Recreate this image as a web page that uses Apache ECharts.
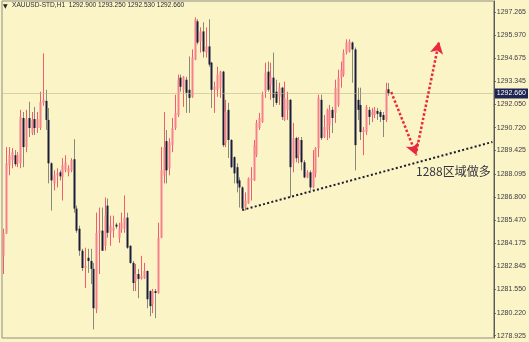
<!DOCTYPE html>
<html>
<head>
<meta charset="utf-8">
<script src="https://cdn.jsdelivr.net/npm/echarts@6/dist/echarts.min.js"></script>
<style>html,body{margin:0;padding:0;background:#fbf4c6;}#c{width:529px;height:342px;}</style>
</head>
<body>
<div id="c"></div>
<script>
// ---- data ----
const titleText = 'XAUUSD-STD,H1  1292.900 1293.250 1292.530 1292.660';
const yTicks = [1297.265, 1295.970, 1294.675, 1293.345, 1292.050, 1290.720, 1289.425, 1288.095,
  1286.800, 1285.470, 1284.175, 1282.845, 1281.550, 1280.220, 1278.925];
const lastPrice = 1292.660;
const slotCount = 175;
const opens = [1283.45,1284.71,1288.59,1288.88,1289.16,1288.70,1288.70,1291.27,1289.62,1291.27,
  1290.42,1291.21,1290.70,1290.70,1292.13,1292.24,1291.16,1288.70,1287.56,1288.02,
  1288.19,1287.90,1288.30,1288.19,1288.30,1288.93,1286.13,1284.99,1283.74,1282.76,
  1283.34,1283.16,1282.71,1280.42,1284.76,1284.88,1284.02,1286.30,1284.76,1284.88,
  1285.22,1284.48,1284.99,1284.99,1285.62,1284.02,1283.05,1282.02,1282.42,1282.14,
  1282.19,1282.59,1281.45,1280.71,1281.45,1281.34,1284.48,1288.00,1289.96,1288.42,
  1289.73,1290.70,1291.44,1293.56,1292.87,1293.44,1292.87,1292.47,1294.58,1296.75,
  1295.61,1296.18,1294.98,1295.33,1294.41,1292.87,1292.87,1292.99,1293.90,1289.85,
  1291.73,1290.02,1289.05,1288.48,1287.73,1287.33,1286.19,1286.42,1287.73,1287.73,
  1289.16,1290.70,1291.04,1292.76,1293.90,1293.16,1293.56,1292.76,1292.47,1292.99,
  1291.16,1291.73,1292.30,1288.70,1290.13,1289.16,1290.02,1288.76,1287.90,1288.19,
  1287.33,1288.13,1289.56,1292.30,1290.19,1290.59,1290.87,1291.73,1291.56,1292.01,
  1293.56,1293.73,1294.98,1295.04,1295.55,1295.16,1292.30,1292.01,1290.47,1290.47,
  1291.73,1291.44,1291.44,1291.67,1291.61,1291.44,1291.16,1292.90];
const closes = [1284.76,1288.70,1289.16,1289.33,1288.65,1289.16,1291.33,1289.62,1291.21,1290.70,
  1291.16,1290.70,1291.21,1292.19,1292.30,1291.16,1288.70,1287.73,1288.02,1288.13,
  1287.96,1288.59,1288.76,1288.42,1288.88,1286.13,1284.88,1283.74,1282.76,1282.88,
  1283.16,1282.71,1280.48,1284.76,1284.88,1283.74,1285.73,1284.76,1285.16,1285.05,
  1285.11,1284.99,1285.33,1285.62,1283.91,1283.05,1281.91,1282.42,1282.14,1282.31,
  1282.59,1280.99,1280.60,1281.45,1281.34,1284.48,1288.30,1289.62,1288.30,1289.90,
  1290.70,1291.56,1293.44,1293.04,1293.61,1292.70,1292.41,1294.70,1296.87,1295.55,
  1296.18,1295.04,1295.33,1294.30,1292.87,1293.04,1293.73,1293.90,1289.73,1291.61,
  1290.02,1288.48,1288.13,1287.56,1287.33,1286.13,1286.59,1287.85,1287.85,1289.73,
  1290.99,1291.27,1292.59,1293.84,1292.87,1293.61,1292.41,1292.13,1292.99,1291.33,
  1292.41,1292.30,1288.48,1290.13,1288.99,1290.02,1288.76,1287.90,1288.19,1287.33,
  1288.30,1289.56,1292.41,1290.13,1290.76,1291.73,1291.73,1291.27,1292.99,1293.56,
  1294.01,1294.98,1295.55,1295.61,1295.16,1289.73,1291.73,1290.47,1290.59,1291.90,
  1291.33,1291.61,1291.73,1291.50,1291.33,1291.16,1292.87,1292.66];
const lows = [1282.42,1284.71,1288.02,1288.42,1288.53,1288.48,1288.42,1288.48,1289.33,1290.19,
  1290.30,1290.30,1290.42,1290.59,1291.96,1290.59,1287.56,1286.02,1287.16,1287.33,
  1287.73,1286.59,1288.19,1287.96,1288.19,1285.90,1284.76,1283.45,1282.59,1281.62,
  1282.48,1281.85,1279.28,1280.20,1282.42,1283.74,1283.74,1284.48,1284.02,1284.48,
  1284.99,1284.19,1284.76,1284.76,1283.85,1283.00,1281.45,1281.45,1281.05,1282.10,
  1282.14,1280.48,1280.02,1280.20,1279.91,1281.30,1284.45,1287.56,1287.56,1288.02,
  1289.33,1290.59,1291.33,1292.76,1291.90,1291.56,1291.56,1292.41,1294.55,1295.44,
  1294.98,1294.70,1294.70,1294.18,1291.84,1291.56,1292.47,1292.41,1289.62,1289.62,
  1289.00,1288.42,1287.56,1287.05,1286.19,1286.02,1286.02,1286.40,1286.59,1287.70,
  1289.05,1290.59,1290.99,1292.41,1292.76,1292.30,1291.90,1292.01,1292.01,1291.16,
  1291.10,1291.16,1286.76,1288.19,1288.76,1288.70,1288.30,1287.85,1287.85,1287.16,
  1287.28,1287.90,1289.05,1290.02,1290.13,1290.02,1290.13,1290.42,1290.99,1291.90,
  1292.99,1293.61,1294.87,1294.98,1293.27,1288.30,1291.16,1290.02,1289.16,1290.30,
  1290.87,1291.04,1291.27,1291.16,1291.04,1290.19,1291.04,1292.53];
const highs = [1284.99,1289.62,1289.62,1289.56,1289.45,1289.33,1291.73,1291.61,1291.73,1292.19,
  1291.61,1291.90,1291.61,1292.76,1294.93,1292.87,1291.84,1288.76,1288.30,1288.42,
  1288.30,1288.99,1289.16,1288.59,1288.99,1290.07,1286.30,1285.16,1283.85,1283.91,
  1283.85,1283.85,1283.05,1285.90,1286.19,1286.19,1286.76,1286.70,1285.73,1285.73,
  1285.33,1285.33,1285.90,1286.88,1285.90,1284.05,1283.16,1282.99,1282.71,1283.45,
  1283.05,1282.62,1281.50,1281.57,1281.57,1285.33,1289.62,1291.61,1290.59,1290.13,
  1291.27,1292.59,1293.73,1293.73,1293.65,1293.61,1294.76,1295.16,1296.98,1296.87,
  1296.41,1296.70,1296.41,1296.87,1294.45,1293.33,1294.18,1293.95,1293.95,1292.30,
  1292.13,1290.07,1289.10,1288.70,1287.90,1287.40,1287.05,1287.90,1288.48,1290.02,
  1291.16,1291.56,1292.76,1294.41,1294.47,1294.41,1294.98,1293.44,1293.27,1293.04,
  1293.33,1292.76,1292.35,1290.99,1290.20,1290.19,1290.19,1288.88,1288.30,1288.30,
  1289.45,1289.62,1292.59,1292.59,1291.44,1291.80,1292.01,1291.90,1293.44,1294.01,
  1294.47,1295.16,1295.73,1295.73,1295.61,1295.27,1292.99,1292.99,1290.76,1292.01,
  1291.90,1291.84,1291.90,1291.84,1291.73,1291.61,1293.27,1293.25];
// trend line (support) and forecast arrow, in [slot, price]
const trendLine = [[85, 1286.05], [174, 1289.91]];
const arrowDown = [[138, 1292.74], [147, 1289.15]];
const arrowUp = [[147, 1289.40], [155, 1295.60]];
const noteText = '1288区域做多';

// ---- chart ----
const categories = Array.from({length: slotCount}, (_, i) => String(i));
const candleData = opens.map((o, i) => [i, o, closes[i], lows[i], highs[i]]);

function renderCandle(params, api) {
  const i = api.value(0), o = api.value(1), c = api.value(2), l = api.value(3), h = api.value(4);
  const bull = c >= o;
  const pO = api.coord([i, o]), pC = api.coord([i, c]);
  const pL = api.coord([i, l]), pH = api.coord([i, h]);
  const x = Math.round(pO[0]);
  const top = Math.min(pO[1], pC[1]);
  const bh = Math.max(1, Math.abs(pO[1] - pC[1]));
  return {
    type: 'group',
    children: [
      {type: 'line', shape: {x1: x + 0.5, y1: pH[1], x2: x + 0.5, y2: pL[1]},
        style: {stroke: bull ? '#f45b6d' : '#8a8a7a', lineWidth: 1}},
      {type: 'rect', shape: {x: x - 0.5, y: top, width: 2, height: bh},
        style: {fill: bull ? '#f6808c' : '#191d3a'}}
    ]
  };
}

const chart = echarts.init(document.getElementById('c'), null, {renderer: 'canvas'});
chart.setOption({
  animation: false,
  backgroundColor: '#fbf4c6',
  grid: {left: 2, right: 30, top: 1, bottom: 4, show: true, borderColor: '#8e8e84', borderWidth: 1},
  xAxis: {
    type: 'category', data: categories, boundaryGap: true,
    axisLine: {show: false}, axisTick: {show: false}, axisLabel: {show: false}, splitLine: {show: false}
  },
  yAxis: {
    type: 'value', position: 'right', min: 1278.79, max: 1297.906, scale: true,
    axisLine: {show: true, lineStyle: {color: '#5a5a58', width: 1}},
    axisTick: {show: true, length: 2, customValues: yTicks, lineStyle: {color: '#555'}},
    axisLabel: {
      show: true, customValues: yTicks, margin: 3, fontSize: 7,
      fontFamily: 'Liberation Sans', color: '#3c3c44',
      formatter: v => Number(v).toFixed(3)
    },
    splitLine: {show: false}
  },
  series: [
    {
      type: 'line', data: [], symbol: 'none', z: 1,
      markLine: {
        silent: true, symbol: ['none', 'none'],
        lineStyle: {color: 'rgba(190,180,140,0.55)', width: 1, type: 'solid'},
        label: {show: true, position: 'end', distance: 1, formatter: lastPrice.toFixed(3),
          color: '#ffffff', backgroundColor: '#1e2553', fontSize: 7,
          fontFamily: 'Liberation Sans', padding: [2, 2, 1, 2]},
        data: [{yAxis: lastPrice}]
      }
    },
    {
      type: 'custom', renderItem: renderCandle, data: candleData,
      encode: {x: 0, y: [1, 2, 3, 4]}, clip: true, z: 2
    },
    {
      type: 'line', data: trendLine, symbol: 'none', z: 3,
      lineStyle: {color: '#1c1c2e', width: 2, type: [2, 2.3]},
      markLine: {
        silent: true, symbol: ['none', 'arrow'], symbolSize: [10, 12],
        lineStyle: {color: '#ea2840', width: 2.5, type: [2.5, 2]},
        label: {show: false},
        data: [
          [{coord: arrowDown[0]}, {coord: arrowDown[1]}],
          [{coord: arrowUp[0]}, {coord: arrowUp[1]}]
        ]
      }
    }
  ],
  graphic: [
    {type: 'text', left: 3, top: 3, style: {text: '▼', font: '6px "DejaVu Sans"', fill: '#222'}},
    {type: 'text', left: 12, top: 2, style: {text: titleText, font: '6.6px "Liberation Sans"', fill: '#2a2a33'}},
    {type: 'text', left: 416, top: 165, style: {text: noteText, font: '12px "Noto Sans CJK SC"', fill: '#35353f'}}
  ]
});
</script>
</body>
</html>
